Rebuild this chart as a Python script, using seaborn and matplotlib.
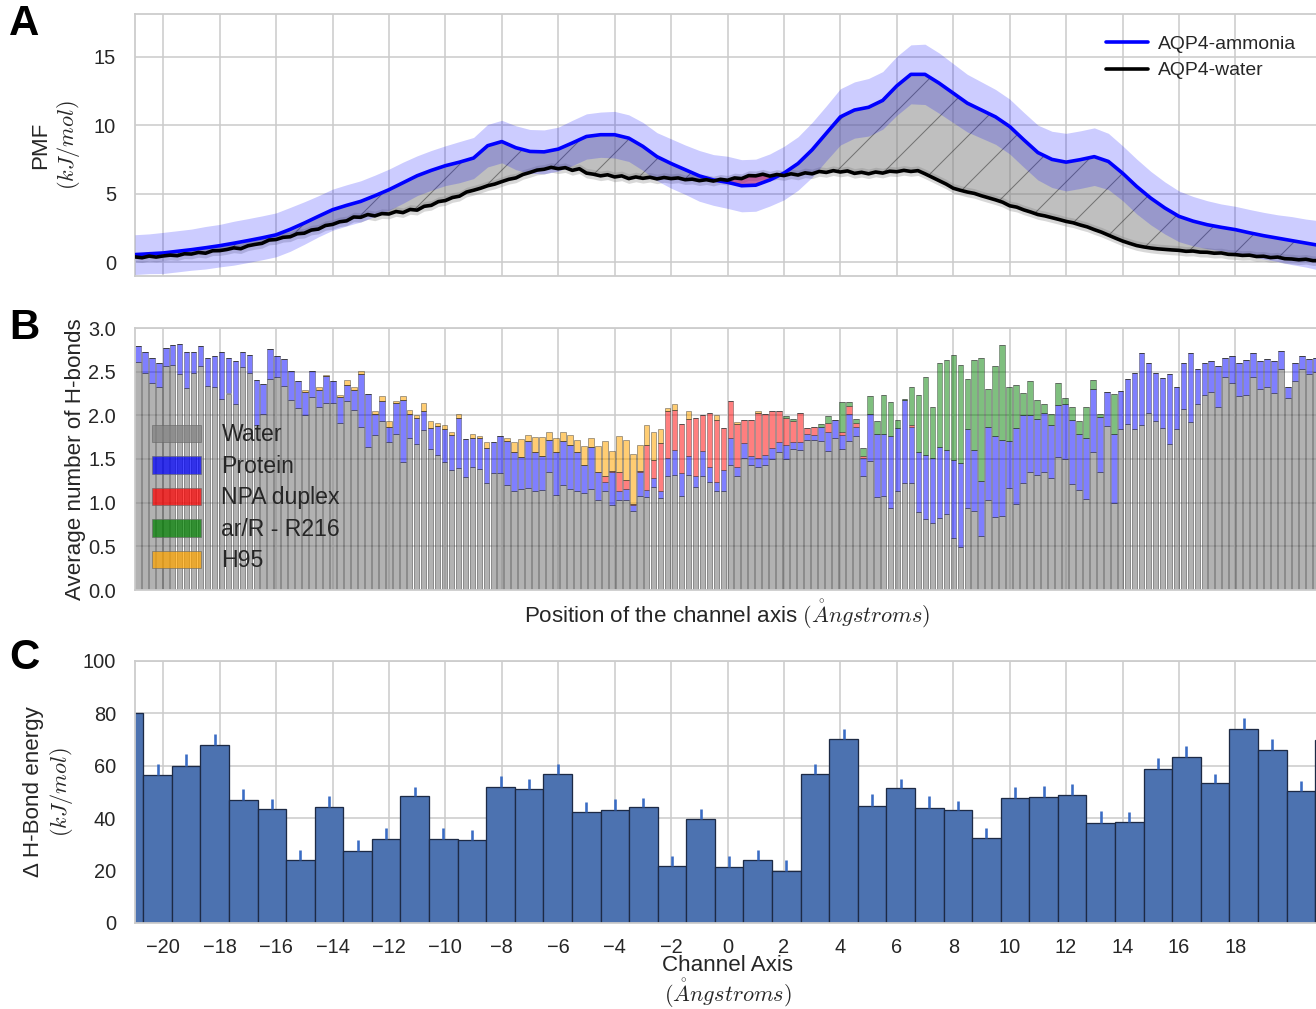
import numpy as np
import matplotlib
matplotlib.use("Agg")
import matplotlib.pyplot as plt
from matplotlib.patches import Patch
import seaborn as sns

# ---------------- Panel A: PMF along the channel axis (kJ/mol) ----------------
pmf_x_ammonia = np.linspace(-21, 21, 85)          # 0.5 A steps
pmf_ammonia = [
    0.56, 0.62, 0.68, 0.80, 0.92, 1.06, 1.21, 1.39, 1.58, 1.78,
    2.00, 2.40, 2.86, 3.35, 3.83, 4.15, 4.44, 4.85, 5.29, 5.80,
    6.31, 6.70, 7.04, 7.30, 7.60, 8.50, 8.80, 8.35, 8.08, 8.05,
    8.25, 8.70, 9.17, 9.30, 9.30, 9.05, 8.45, 7.70, 7.20, 6.75,
    6.30, 6.00, 5.83, 5.58, 5.62, 6.00, 6.50, 7.20, 8.20, 9.40,
    10.60, 11.10, 11.30, 11.80, 12.86, 13.70, 13.70, 13.06, 12.33, 11.60,
    11.10, 10.60, 9.90, 8.93, 8.00, 7.50, 7.30, 7.48, 7.70, 7.35,
    6.50, 5.53, 4.68, 3.96, 3.35, 3.00, 2.74, 2.55, 2.38, 2.15,
    1.94, 1.76, 1.58, 1.40, 1.22,
]
pmf_ammonia_err = [
    1.45, 1.45, 1.5, 1.5, 1.5, 1.55, 1.55, 1.6, 1.6, 1.6, 1.6,
    1.6, 1.55, 1.5, 1.5, 1.5, 1.5, 1.5, 1.5, 1.5, 1.45, 1.45, 1.45,
    1.5, 1.5, 1.55, 1.55, 1.6, 1.6, 1.6, 1.6, 1.65, 1.65,
    1.65, 1.7, 1.7, 1.75, 1.75, 1.8, 1.8, 1.85, 1.85, 1.9,
    1.9, 1.9, 1.9, 1.95, 1.95, 2.0, 2.0, 2.05, 2.05, 2.1,
    2.1, 2.15, 2.15, 2.2, 2.2, 2.15, 2.1, 2.05, 2.0, 2.0,
    2.0, 2.0, 2.05, 2.1, 2.1, 2.1, 2.05, 2.0, 2.0, 1.95,
    1.9, 1.85, 1.8, 1.75, 1.7, 1.7, 1.7, 1.7, 1.7, 1.75, 1.75, 1.8,
]
pmf_x_water = np.linspace(-21, 21, 169)           # 0.25 A steps
pmf_water = [
    0.39, 0.33, 0.45, 0.38, 0.46, 0.52, 0.48, 0.62, 0.60, 0.72,
    0.66, 0.84, 0.85, 0.93, 1.05, 0.99, 1.20, 1.30, 1.38, 1.62,
    1.66, 1.82, 1.86, 2.08, 2.12, 2.35, 2.42, 2.68, 2.76, 2.95,
    3.02, 3.30, 3.28, 3.48, 3.38, 3.55, 3.52, 3.70, 3.62, 3.85,
    3.80, 4.08, 4.15, 4.42, 4.50, 4.72, 4.82, 5.12, 5.25, 5.40,
    5.58, 5.70, 5.88, 6.05, 6.15, 6.40, 6.55, 6.72, 6.78, 6.92,
    6.82, 6.90, 6.70, 6.82, 6.50, 6.42, 6.30, 6.38, 6.22, 6.30,
    6.10, 6.22, 6.12, 6.20, 6.08, 6.18, 6.10, 6.15, 6.02, 6.06,
    5.95, 6.02, 5.92, 6.05, 5.98, 6.15, 6.10, 6.32, 6.30, 6.42,
    6.28, 6.40, 6.32, 6.45, 6.36, 6.52, 6.45, 6.62, 6.55, 6.68,
    6.58, 6.66, 6.48, 6.56, 6.45, 6.58, 6.50, 6.64, 6.60, 6.70,
    6.62, 6.68, 6.45, 6.20, 5.95, 5.70, 5.40, 5.25, 5.12, 5.02,
    4.85, 4.70, 4.55, 4.38, 4.12, 4.02, 3.82, 3.66, 3.48, 3.38,
    3.25, 3.12, 2.98, 2.88, 2.72, 2.58, 2.38, 2.20, 1.98, 1.76,
    1.55, 1.38, 1.22, 1.12, 1.04, 0.98, 0.94, 0.90, 0.87, 0.80,
    0.82, 0.74, 0.73, 0.66, 0.68, 0.58, 0.56, 0.50, 0.52, 0.42,
    0.44, 0.34, 0.38, 0.26, 0.24, 0.18, 0.22, 0.12, 0.12,
]
pmf_water_err = 0.35
crossing_lo, crossing_hi = -0.5, 2.0   # ammonia PMF dips below water here

# ---------------- Panel B: average number of H-bonds (170 bins, -21..21 A) ----------------
hb_water = [
    2.61, 2.49, 2.37, 2.32, 2.57, 2.58, 2.47, 2.31, 2.48, 2.57,
    2.34, 2.33, 2.19, 2.25, 2.13, 2.55, 2.49, 1.89, 2.01, 2.42,
    2.44, 2.34, 2.17, 2.08, 2.00, 2.21, 2.10, 2.14, 2.14, 1.91,
    2.16, 2.06, 1.87, 1.64, 1.77, 1.94, 1.69, 1.79, 1.47, 1.74,
    1.67, 1.83, 1.62, 1.55, 1.46, 1.37, 1.40, 1.29, 1.41, 1.38,
    1.22, 1.34, 1.34, 1.20, 1.13, 1.16, 1.17, 1.13, 1.14, 1.35,
    1.09, 1.20, 1.16, 1.13, 1.11, 1.16, 1.03, 1.13, 0.97, 1.03,
    1.03, 0.91, 1.08, 1.07, 1.18, 1.05, 1.31, 1.32, 1.08, 1.32,
    1.18, 1.31, 1.24, 1.13, 1.13, 1.43, 1.31, 1.51, 1.43, 1.41,
    1.43, 1.50, 1.58, 1.50, 1.62, 1.60, 1.72, 1.72, 1.71, 1.59,
    1.74, 1.61, 1.71, 1.76, 1.30, 1.48, 1.07, 1.08, 0.94, 1.13,
    1.23, 1.23, 0.89, 0.81, 0.77, 0.82, 0.87, 0.59, 0.49, 0.94,
    0.90, 0.62, 1.03, 0.84, 0.85, 1.17, 0.99, 1.23, 1.35, 1.32,
    1.35, 1.28, 1.52, 1.50, 1.21, 1.15, 1.04, 1.58, 1.35, 1.88,
    1.00, 1.84, 1.90, 1.84, 1.89, 2.03, 1.94, 1.85, 1.67, 1.84,
    2.07, 1.92, 2.13, 2.23, 2.27, 2.10, 2.44, 2.37, 2.22, 2.23,
    2.44, 2.30, 2.33, 2.26, 2.53, 2.20, 2.39, 2.53, 2.47, 2.50,
]
hb_protein = [
    0.18, 0.24, 0.29, 0.28, 0.20, 0.22, 0.35, 0.42, 0.25, 0.22,
    0.32, 0.35, 0.54, 0.41, 0.49, 0.18, 0.20, 0.51, 0.35, 0.34,
    0.24, 0.31, 0.34, 0.31, 0.27, 0.30, 0.19, 0.31, 0.25, 0.30,
    0.19, 0.23, 0.60, 0.60, 0.24, 0.22, 0.18, 0.35, 0.71, 0.27,
    0.30, 0.22, 0.23, 0.33, 0.38, 0.40, 0.57, 0.44, 0.33, 0.36,
    0.41, 0.35, 0.42, 0.51, 0.45, 0.36, 0.54, 0.45, 0.39, 0.37,
    0.49, 0.51, 0.50, 0.45, 0.32, 0.48, 0.32, 0.11, 0.38, 0.10,
    0.13, 0.06, 0.27, 0.08, 0.10, 0.08, 0.20, 0.28, 0.26, 0.22,
    0.12, 0.28, 0.17, 0.11, 0.24, 0.31, 0.10, 0.17, 0.10, 0.10,
    0.12, 0.13, 0.12, 0.16, 0.08, 0.10, 0.07, 0.05, 0.16, 0.22,
    0.21, 0.16, 0.31, 0.11, 0.21, 0.53, 0.72, 0.71, 0.82, 0.72,
    0.94, 0.64, 0.69, 0.74, 0.74, 0.82, 0.73, 0.90, 0.96, 0.90,
    0.70, 0.63, 0.84, 0.92, 0.87, 0.54, 0.87, 0.77, 0.65, 0.64,
    0.68, 0.61, 0.60, 0.63, 0.74, 0.64, 0.70, 0.72, 0.63, 0.39,
    0.79, 0.44, 0.52, 0.64, 0.82, 0.57, 0.55, 0.58, 0.80, 0.48,
    0.53, 0.79, 0.40, 0.37, 0.35, 0.47, 0.22, 0.31, 0.38, 0.40,
    0.27, 0.32, 0.32, 0.36, 0.21, 0.13, 0.21, 0.15, 0.17, 0.16,
]
hb_npa = [0.0] * 67 + [
    0.06, 0.01, 0.22, 0.10, 0.02, 0.01, 0.51, 0.21, 0.55, 0.54,
    0.46, 0.56, 0.42, 0.67, 0.41, 0.62, 0.71, 0.49, 0.42, 0.49,
    0.27, 0.42, 0.52, 0.47, 0.42, 0.35, 0.31, 0.24, 0.33, 0.06,
    0.10, 0.0, 0.10, 0.0, 0.04, 0.09, 0.04, 0.03, 0.0, 0.0,
    0.0, 0.0, 0.0, 0.0, 0.02,
] + [0.0] * 58
hb_arr = [0.0] * 93 + [
    0.02, 0.02, 0.0, 0.0, 0.0, 0.03, 0.08, 0.0, 0.34, 0.04,
    0.05, 0.09, 0.21, 0.14, 0.44, 0.39, 0.10, 0.02, 0.44, 0.65,
    0.89, 0.59, 0.96, 1.03, 1.20, 1.13, 0.58, 1.03, 1.41, 0.43,
    0.80, 1.08, 0.62, 0.49, 0.25, 0.39, 0.22, 0.10, 0.13, 0.25,
    0.07, 0.14, 0.14, 0.35, 0.10, 0.03, 0.0, 0.45,
] + [0.0] * 29
hb_h95 = [0.0] * 24 + [
    0.02, 0.0, 0.04, 0.01, 0.0, 0.02, 0.05, 0.04, 0.04, 0.0,
    0.04, 0.06, 0.06, 0.02, 0.04, 0.05, 0.03, 0.09, 0.08, 0.03,
    0.05, 0.04, 0.05, 0.0, 0.05, 0.02, 0.07, 0.0, 0.0, 0.03,
    0.12, 0.21, 0.07, 0.17, 0.22, 0.09, 0.16, 0.10, 0.12, 0.14,
    0.22, 0.10, 0.30, 0.41, 0.23, 0.41, 0.46, 0.57, 0.30, 0.23,
    0.32, 0.16, 0.03, 0.07, 0.0, 0.09, 0.0, 0.0, 0.0, 0.05,
    0.0, 0.0, 0.02, 0.0, 0.0, 0.02,
] + [0.0] * 80
hb_labels = ["Water", "Protein", "NPA duplex", "ar/R - R216", "H95"]
hb_colors = ["gray", "blue", "red", "green", "orange"]

# ---------------- Panel C: H-bond energy difference (kJ/mol), ~1 A bins ----------------
energy_first_edge = -21.72
energy_bin_width = 1.013
hb_energy = [
    80.2, 56.4, 60.0, 68.1, 46.8, 43.6, 23.9, 44.3, 27.3, 32.0,
    48.3, 32.0, 31.5, 51.9, 51.3, 57.0, 42.2, 43.1, 44.1, 21.8,
    39.7, 21.3, 23.9, 19.9, 57.0, 70.3, 44.8, 51.4, 43.8, 43.1,
    32.5, 47.7, 48.2, 48.9, 38.1, 38.6, 58.9, 63.5, 53.3, 73.9,
    66.1, 50.4, 70.0,
]
hb_energy_err = [
    4.0, 4.1, 4.5, 4.1, 4.5, 3.7, 4.0, 4.0, 4.2, 4.1,
    3.6, 4.1, 4.1, 4.1, 3.7, 3.5, 4.1, 4.2, 3.7, 3.6,
    3.9, 4.1, 4.0, 4.0, 3.5, 3.9, 4.4, 3.6, 4.5, 3.6,
    3.6, 4.2, 4.2, 4.0, 4.6, 3.6, 4.1, 4.1, 3.6, 4.4,
    4.1, 3.9, 4.0,
]

x_ticks = np.arange(-20, 19, 2)

# ---------------- style ----------------
sns.set_style("whitegrid")
plt.rcParams["font.family"] = ["Liberation Sans", "DejaVu Sans"]
plt.rcParams["mathtext.fontset"] = "cm"
plt.rcParams["hatch.linewidth"] = 0.5
plt.rcParams["axes.edgecolor"] = "0.8"
plt.rcParams["grid.color"] = "0.8"
plt.rcParams["grid.linewidth"] = 0.8
plt.rcParams["axes.linewidth"] = 0.9
plt.rcParams["xtick.labelsize"] = 10
plt.rcParams["ytick.labelsize"] = 10
plt.rcParams["axes.labelsize"] = 11.2
plt.rcParams["text.color"] = "0.15"
plt.rcParams["axes.labelcolor"] = "0.15"

DPI = 144
W, H = 1316, 1009
fig = plt.figure(figsize=(W / DPI, H / DPI), dpi=DPI)


def axes_box(top, bottom, left=135, right=1320):
    return [left / W, 1 - bottom / H, (right - left) / W, (bottom - top) / H]


ax_a = fig.add_axes(axes_box(14, 276))
ax_b = fig.add_axes(axes_box(328, 590))
ax_c = fig.add_axes(axes_box(661, 923))

for ax in (ax_a, ax_b, ax_c):
    ax.set_xlim(-21, 21)
    ax.set_xticks(x_ticks)
    ax.tick_params(axis="y", pad=6)
    ax.tick_params(axis="x", pad=4)

# ---------------- Panel A ----------------
xa = pmf_x_ammonia
amm = np.array(pmf_ammonia)
amm_err = np.array(pmf_ammonia_err)
xw = pmf_x_water
wat = np.array(pmf_water)

ax_a.fill_between(xw, wat - pmf_water_err, wat + pmf_water_err,
                  color="gray", alpha=0.3, lw=0, zorder=1)

for lo, hi, kind in [(-21, crossing_lo, "above"), (crossing_lo, crossing_hi, "below"),
                     (crossing_hi, 21, "above")]:
    mw = (xw >= lo) & (xw <= hi)
    ma = (xa >= lo) & (xa <= hi)
    poly_x = np.concatenate([xw[mw], xa[ma][::-1]])
    poly_y = np.concatenate([wat[mw], amm[ma][::-1]])
    if kind == "above":
        ax_a.fill(poly_x, poly_y, facecolor="gray", edgecolor="0.15", hatch="/",
                  alpha=0.5, lw=0, zorder=2)
    else:
        ax_a.fill(poly_x, poly_y, facecolor="#f0304a", alpha=0.6, lw=0, zorder=2)

ax_a.fill_between(xa, amm - amm_err, amm + amm_err, color="blue", alpha=0.2, lw=0, zorder=3)
sns.lineplot(x=xa, y=amm, color="blue", lw=1.8, label="AQP4-ammonia", ax=ax_a, zorder=5)
sns.lineplot(x=xw, y=wat, color="black", lw=1.8, label="AQP4-water", ax=ax_a, zorder=5)

ax_a.set_ylim(-1, 18.1)
ax_a.set_yticks([0, 5, 10, 15])
ax_a.tick_params(labelbottom=False)
ax_a.set_xlabel("")
ax_a.set_ylabel("PMF\n$(kJ/mol)$")
ax_a.yaxis.set_label_coords(-0.0447, 0.5)
ax_a.legend(loc="upper right", bbox_to_anchor=(0.988, 0.955), frameon=False,
            fontsize=9.7, handlelength=2.2, handletextpad=0.5, borderpad=0,
            labelspacing=0.45)

# ---------------- Panel B ----------------
hb_x = np.linspace(-21, 21, len(hb_water) + 1)[:-1]
bottom = np.zeros(len(hb_x))
series = [hb_water, hb_protein, hb_npa, hb_arr, hb_h95]
alphas = [0.6, 0.5, 0.5, 0.5, 0.55]
for vals, color, alpha in zip(series, hb_colors, alphas):
    vals = np.array(vals)
    ax_b.bar(hb_x, vals, width=0.2, bottom=bottom, align="edge", color=color,
             alpha=alpha, edgecolor="0.15", linewidth=0.35)
    bottom = bottom + vals

handles = [Patch(facecolor=c, alpha=0.72, edgecolor="0.4", lw=0.4) for c in hb_colors]
ax_b.legend(handles, hb_labels, loc="upper left", bbox_to_anchor=(0.005, 0.68),
            frameon=False, fontsize=11.5, handlelength=2.1, handleheight=0.8,
            labelspacing=0.37, handletextpad=0.9, borderpad=0)
ax_b.set_ylim(0, 3.0)
ax_b.set_yticks(np.arange(0, 3.01, 0.5))
ax_b.tick_params(labelbottom=False)
ax_b.set_ylabel("Average number of H-bonds")
ax_b.yaxis.set_label_coords(-0.0413, 0.5)
ax_b.set_xlabel(r"Position of the channel axis $(\mathring{A}ngstroms)$")
ax_b.xaxis.set_label_coords(0.5, -0.03)

# ---------------- Panel C ----------------
e_left = energy_first_edge + energy_bin_width * np.arange(len(hb_energy))
ax_c.bar(e_left, hb_energy, width=energy_bin_width, align="edge", color="#4C72B0",
         edgecolor="#1d2a45", linewidth=0.65)
ax_c.errorbar(e_left + energy_bin_width / 2, hb_energy,
              yerr=[np.zeros(len(hb_energy)), hb_energy_err], fmt="none",
              ecolor="#3a6cc4", elinewidth=1.3, capsize=0)
ax_c.set_ylim(0, 100)
ax_c.set_yticks(np.arange(0, 101, 20))
ax_c.set_ylabel("\u0394 H-Bond energy\n$(kJ/mol)$")
ax_c.yaxis.set_label_coords(-0.0506, 0.5)
ax_c.set_xlabel("Channel Axis\n" + r"$(\mathring{A}ngstroms)$", linespacing=1.0)
ax_c.xaxis.set_label_coords(0.5, -0.124)

# panel letters
for letter, top in [("A", 4), ("B", 308), ("C", 638)]:
    fig.text(9 / W, 1 - top / H, letter, fontsize=21, fontweight="bold",
             color="black", va="top", ha="left")

fig.savefig("out.png", dpi=DPI)
